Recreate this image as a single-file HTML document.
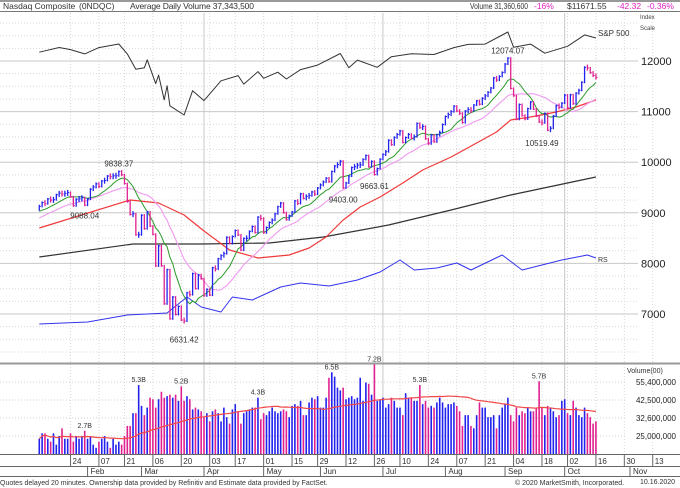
<!DOCTYPE html>
<html><head><meta charset="utf-8">
<style>
html,body{margin:0;padding:0;background:#fff;}
svg{display:block;font-family:"Liberation Sans",sans-serif;}
</style></head>
<body>
<svg id="chart" width="680" height="488" viewBox="0 0 680 488" xmlns="http://www.w3.org/2000/svg">
  <rect x="0" y="0" width="680" height="488" fill="#fff"/>
  <g id="grid"></g>
  <g id="header">
    <rect x="0" y="0" width="680" height="2" fill="#999"/>
    <line x1="0" y1="11.5" x2="680" y2="11.5" stroke="#777" stroke-width="1"/>
    <text x="3" y="9" font-size="8.5" fill="#333">Nasdaq Composite</text>
    <text x="79" y="9" font-size="8.5" fill="#333">(0NDQC)</text>
    <text x="130" y="9" font-size="8.5" fill="#333" textLength="124">Average Daily Volume 37,343,500</text>
    <text x="470" y="9" font-size="8" fill="#333" textLength="58" lengthAdjust="spacingAndGlyphs">Volume 31,360,600</text>
    <text x="534" y="9" font-size="8.5" fill="#e020c0">-16%</text>
    <text x="567" y="9" font-size="8.5" fill="#333">$11671.55</text>
    <text x="617" y="9" font-size="8.5" fill="#e020c0">-42.32</text>
    <text x="647" y="9" font-size="8.5" fill="#e020c0">-0.36%</text>
  </g>
  <text x="640" y="19" font-size="6" fill="#444">Index</text>
  <text x="640" y="30" font-size="6" fill="#444">Scale</text>
  <g id="marks"></g>
  <g id="axes"></g>
  <text x="0" y="485" font-size="7" fill="#333">Quotes delayed 20 minutes. Ownership data provided by Refinitiv and Estimate data provided by FactSet.</text>
  <text x="515" y="485" font-size="7" fill="#333">© 2020 MarketSmith, Incorporated.</text>
  <text x="640" y="484" font-size="7" fill="#333">10.16.2020</text>
</svg>
<script>
// ---- data ----
const priorCloses = [8566,8571,8657,8622,8616,8654,8717,8735,8814,8823,8827,8887,8925,8945,8953,9022,9007,8945,8973];
const closes = [
9092,9020,9071,9069,9129,9203,9179,9274,9251,9259,9357,9389,9370,9384,9402,9315,9139,9269,9275,9299,9151,
9273,9467,9509,9572,9520,9629,9639,9726,9712,9731,9732,9817,9751,9577,9221,8966,8980,8566,8567,
8953,8685,9019,8738,8576,7950,8345,7952,7201,7875,6905,7335,6990,7151,6880,6861,7418,7384,7798,7502,7774,7700,
7360,7487,7373,7913,7888,8091,8153,8193,8516,8394,8533,8650,8561,8263,8495,8495,8634,8730,8608,8915,8890,
8605,8710,8810,8854,8980,9121,9192,9002,8863,8944,9015,9235,9185,9375,9285,9325,9340,9413,9369,9490,
9552,9609,9683,9616,9815,9925,9953,10020,9493,9589,9726,9896,9911,9943,9946,10057,10131,9910,10017,9757,9875,10059,
10155,10208,10434,10344,10492,10548,10617,10391,10488,10550,10474,10503,10767,10680,10706,10462,10363,10536,10402,10543,10588,10745,
10903,10941,10999,11108,11011,10968,10782,11012,11043,11019,11129,11211,11147,11265,11312,11380,11466,11666,11625,11696,11775,
11940,12056,11458,11313,10848,11141,10920,10854,11057,11191,11050,10910,10794,10779,10964,10633,10672,10914,11118,11086,11168,
11326,11076,11332,11154,11365,11421,11580,11876,11864,11768,11714,11672];
const drawStart = 4;
const volStart = 4;
const vols = [
2.4,2.6,2.6,2.4,2.3,2.6,2.2,2.5,2.8,2.4,
2.4,2.6,2.3,2.5,2.4,2.5,2.7,2.4,2.5,2.2,
2.1,2.3,2.4,2.5,2.3,2.1,2.4,2.2,2.3,2.2,
2.5,2.9,2.9,3.5,3.5,5.3,3.9,3.4,3.8,4.4,
4.3,3.8,4.3,4.8,4.4,4.5,4.6,4.4,4.6,4.2,5.2,4.2,
4.5,4.3,3.7,3.8,3.7,3.6,
3.3,3.5,
3.1,3.6,3.7,3.5,3.1,3.8,3.3,3.0,3.7,4.0,
3.6,3.0,3.5,3.6,3.7,3.8,3.8,4.4,3.2,3.5,
3.4,3.6,3.8,3.6,3.5,3.6,3.7,3.6,3.3,3.9,
4.0,3.9,4.2,3.4,3.4,4.1,
4.4,4.3,4.5,3.8,3.8,4.4,5.9,6.4,6.0,5.1,
4.9,5.1,4.3,4.4,4.5,4.3,4.4,5.9,4.2,5.5,
5.4,4.6,7.2,4.2,4.3,4.4,3.8,4.0,4.4,4.2,
3.8,3.8,3.4,4.7,4.4,4.4,4.2,4.2,5.3,4.0,
4.2,3.8,3.9,3.8,4.1,4.4,4.1,3.8,4.0,4.0,
4.1,3.9,3.6,2.9,3.4,3.4,2.9,2.8,3.4,4.1,
3.8,3.8,3.3,3.3,3.4,2.8,3.4,3.8,4.0,4.4,
3.4,3.1,3.8,3.4,3.6,3.5,3.8,3.6,3.6,3.8,
5.6,3.8,3.4,3.9,3.8,3.6,3.3,3.4,4.2,4.3,
3.5,3.4,4.2,3.8,3.4,3.3,3.8,3.5,3.3,3.0,3.1];
const ma50Idx = [4,36,46,55,62,71,81,92,99,105,111,117,124,132,139,149,158,165,170,177,186,193,200];
const ma50Val = [8700,9253,9194,8957,8640,8265,8107,8166,8304,8522,8858,9115,9312,9589,9846,10103,10379,10597,10834,10893,10992,11091,11229];
const ma200Idx = [4,37,61,85,104,127,149,170,200];
const ma200Val = [8126,8383,8383,8403,8522,8759,9055,9352,9708];
const spIdx = [4,11,15,20,25,32,35,38,41,42,45,46,48,49,50,55,58,62,68,74,76,81,83,88,91,96,102,110,113,116,123,128,135,143,150,155,161,166,169,171,177,182,190,196,200];
const spVal = [3253,3330,3295,3226,3328,3386,3226,2979,3003,3130,2746,2882,2481,2711,2386,2237,2630,2470,2790,2875,2737,2939,2831,2930,2820,2972,3044,3232,3002,3125,3009,3180,3227,3216,3328,3380,3385,3508,3580,3332,3385,3237,3348,3534,3483];
const rsIdx = [4,21,35,49,56,61,68,72,79,89,96,106,116,124,131,136,144,151,156,167,174,188,197,200];
const rsVal = [12,16,30,34,66,46,36,66,60,86,94,88,100,116,140,120,124,134,120,150,120,140,150,144];
const priceTicks = [12000,11000,10000,9000,8000,7000];
const volTicks = [5.54,4.25,3.26,2.5];
const volTickLabels = ["55,400,000","42,500,000","32,600,000","25,000,000"];
const dateTickIdx = [15,25,34,44,54,64,73,83,93,102,112,122,131,141,151,161,171,181,190,200,210,220];
const dateTickLabels = ["24","07","21","06","20","03","17","01","15","29","12","26","10","24","07","21","04","18","02","16","30","13"];
const monthIdx = [21,40,62,83,103,125,147,168,189,212];
const monthLabels = ["Feb","Mar","Apr","May","Jun","Jul","Aug","Sep","Oct","Nov"];
const quarterIdx = [62,125,189];
const annIdx = [32,20,55,111,122,169,181];
const annVal = [9838.37,9088.04,6631.42,9403.00,9663.61,12074.07,10519.49];
const annBelow = [false,true,true,true,true,false,true];
const volLabIdx = [20,39,54,81,107,122,138,180];
const volLabText = ["2.7B","5.3B","5.2B","4.3B","6.5B","7.2B","5.3B","5.7B"];

// ---- axis functions ----
const X = i => 204 + (i - 62) * 2.84;
const YP = v => 61 + (12000 - v) * 0.0506;
const YV = v => 436 - Math.log(v / 2.5) * 67.8;
const YS = v => 44 + (3386 - v) * 0.0618;
const YR = v => 330 - v * 0.5;
const VBASE = 454;

const NS = "http://www.w3.org/2000/svg";
function mk(tag, parent, attrs){const e=document.createElementNS(NS,tag);for(const k in attrs)e.setAttribute(k,attrs[k]);parent.appendChild(e);return e;}
const grid = document.getElementById('grid');
const marks = document.getElementById('marks');
const axes = document.getElementById('axes');

for (let v = 6250; v <= 12750; v += 250) {
  const y = YP(v);
  if (y < 13 || y > 362) continue;
  const major = v % 1000 === 0;
  const l = mk('line', grid, {x1:0, x2:638, y1:y, y2:y, stroke: major ? '#c8c8c8' : '#d8d8d8', 'stroke-width':1, 'stroke-dasharray': major ? '' : '1,2'});
  
  
}
volTicks.forEach(v => {
  const l = mk('line', grid, {x1:0, x2:625, y1:YV(v), y2:YV(v), stroke:'#d0d0d0', 'stroke-dasharray':'1,2'});
  
  
});
dateTickIdx.forEach(i => {
  const x = X(i);
  const l = mk('line', grid, {x1:x, x2:x, y1:13, y2:VBASE, stroke:'#d8d8d8', 'stroke-dasharray':'1,2'});
  
  
});
quarterIdx.forEach(i => {
  const x = X(i);
  const l = mk('line', grid, {x1:x, x2:x, y1:13, y2:VBASE, stroke:'#c8c8c8'});
  
  
});

[[363.5,'#999',2],[VBASE+0.5,'#666',1],[466.5,'#666',1],[476.5,'#666',1]].forEach(([y,c,w])=>{
  const l = mk('line', axes, {x1:0, x2:680, y1:y, y2:y, stroke:c, 'stroke-width':w});
  
  
});

priceTicks.forEach(v => {
  const t = mk('text', axes, {x:641, y:YP(v)+4, 'font-size':11, fill:'#222'});
  t.textContent = v;
  
  
});
const vt = mk('text', axes, {x:627, y:373, 'font-size':7, fill:'#333'});
vt.textContent = 'Volume(00)';


volTicks.forEach((v, k) => {
  const t = mk('text', axes, {x:676, y:YV(v)+3, 'font-size':8, fill:'#222', 'text-anchor':'end'});
  t.textContent = volTickLabels[k];
  
  
});
dateTickIdx.forEach((i, k) => {
  const x = X(i);
  const l = mk('line', axes, {x1:x, x2:x, y1:VBASE, y2:466, stroke:'#666'});
  
  
  const t = mk('text', axes, {x:x+2, y:464, 'font-size':8, fill:'#333'});
  t.textContent = dateTickLabels[k];
  
  
});
monthIdx.forEach((i, k) => {
  const x = X(i);
  const l = mk('line', axes, {x1:x, x2:x, y1:466, y2:476, stroke:'#666'});
  
  
  const t = mk('text', axes, {x:x+3, y:474, 'font-size':8, fill:'#333'});
  t.textContent = monthLabels[k];
  
  
});

const all = priorCloses.concat(closes);
const off = priorCloses.length;
function sma(idx, n){let s=0,c=0;for(let k=idx+off;k>idx+off-n&&k>=0;k--){s+=all[k];c++;}return s/c;}
function poly(pts, color, w, name){
  const p = mk('polyline', marks, {points: pts.map(q=>q[0].toFixed(1)+','+q[1].toFixed(1)).join(' '), fill:'none', stroke:color, 'stroke-width':w, 'stroke-linejoin':'round'});
  
  
}

poly(spIdx.map((i,k)=>[X(i), YS(spVal[k])]), '#333', 1, 'sp500-line');
const spl = mk('text', marks, {x:598, y:36, 'font-size':8, fill:'#333'});
spl.textContent = 'S&P 500';


poly(rsIdx.map((i,k)=>[X(i), YR(rsVal[k])]), '#3333ee', 1, 'rs-line');
const rsl = mk('text', marks, {x:598, y:262, 'font-size':7, fill:'#333'});
rsl.textContent = 'RS';


poly(ma200Idx.map((i,k)=>[X(i), YP(ma200Val[k])]), '#333', 1.2, 'ma200-line');
poly(ma50Idx.map((i,k)=>[X(i), YP(ma50Val[k])]), '#f03a3a', 1.2, 'ma50-line');
const p21 = [], p10 = [];
for (let i = drawStart; i < closes.length; i++) { p21.push([X(i), YP(sma(i,21))]); p10.push([X(i), YP(sma(i,10))]); }
poly(p21, '#f0a0f0', 1.2, 'ma21-line');
poly(p10, '#2a9a2a', 1, 'ma10-line');

for (let i = drawStart; i < closes.length; i++) {
  const o = all[i+off-1], c = closes[i];
  const up = c >= o;
  const col = up ? '#2222ee' : '#e0208f';
  let y1 = YP(Math.max(o,c)), y2 = YP(Math.min(o,c));
  if (y2 - y1 < 4) { const m=(y1+y2)/2; y1=m-2; y2=m+2; }
  const x = X(i);
  const b = mk('line', marks, {x1:x, x2:x, y1:y1-1, y2:y2+1, stroke:col, 'stroke-width':1.3});
  
  
  const tk = mk('line', marks, {x1:x, x2:x+1.6, y1:YP(c), y2:YP(c), stroke:col, 'stroke-width':1});
  
  
}
annIdx.forEach((i,k)=>{
  const y = YP(annVal[k]);
  const t = mk('text', marks, {x:X(i), y: annBelow[k] ? y+10 : y-4, 'font-size':8, fill:'#333', 'text-anchor':'middle'});
  t.textContent = annVal[k].toFixed(2);
  
  
});

const vpts = [];
for (let k = 0; k < vols.length; k++) {
  const i = volStart + k;
  if (i >= closes.length) break;
  const up = closes[i] >= all[i+off-1];
  const x = X(i);
  const r = mk('rect', marks, {x:x-0.8, y:YV(vols[k]), width:1.6, height:VBASE-YV(vols[k]), fill: up ? '#2222ee' : '#e0208f'});
  
  
  let s=0,c=0; for(let j=k;j>k-50&&j>=0;j--){s+=vols[j];c++;}
  vpts.push([x, YV(s/c)]);
}
poly(vpts, '#f04848', 1.2, 'volume-ma-line');
volLabIdx.forEach((i,k)=>{
  const t = mk('text', marks, {x:X(i), y:YV(vols[i-volStart])-3, 'font-size':7, fill:'#333', 'text-anchor':'middle'});
  t.textContent = volLabText[k];
  
  
});
</script>
</body></html>
